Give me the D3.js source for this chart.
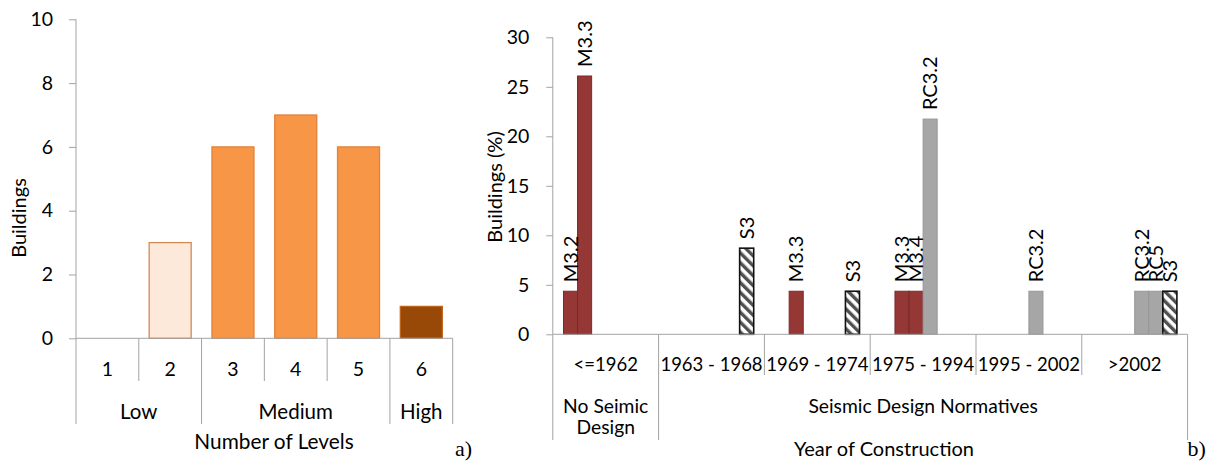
<!DOCTYPE html>
<html>
<head>
<meta charset="utf-8">
<script src="https://cdn.jsdelivr.net/npm/d3@7"></script>
<style>
  html, body { margin: 0; padding: 0; background: #fff; }
  svg { display: block; }
  text { font-family: Lato, "Open Sans", sans-serif; fill: #000; }
</style>
</head>
<body>
<svg id="chart" width="1208" height="461"></svg>
<script>
// ---- a) buildings by number of levels ----
const levels = ["1", "2", "3", "4", "5", "6"];
const levelCounts = [0, 3, 6, 7, 6, 1];
const levelClass = ["Low", "Low", "Medium", "Medium", "Medium", "High"];
const levelClassNames = ["Low", "Medium", "High"];
const levelTicks = [0, 2, 4, 6, 8, 10];

// ---- b) share of buildings by year of construction and typology ----
const periods = ["<=1962", "1963 - 1968", "1969 - 1974", "1975 - 1994", "1995 - 2002", ">2002"];
const periodGroup = ["No Seimic\nDesign", "Seismic Design Normatives", "Seismic Design Normatives",
                     "Seismic Design Normatives", "Seismic Design Normatives", "Seismic Design Normatives"];
const typologies = ["M3.2", "M3.3", "M3.4", "RC3.2", "RC5", "S3"];
const shareM32  = [4.35, 0, 0, 0, 0, 0];
const shareM33  = [26.09, 0, 4.35, 4.35, 0, 0];
const shareM34  = [0, 0, 0, 4.35, 0, 0];
const shareRC32 = [0, 0, 0, 21.74, 4.35, 4.35];
const shareRC5  = [0, 0, 0, 0, 0, 4.35];
const shareS3   = [0, 8.70, 4.35, 0, 0, 4.35];
const shareTicks = [0, 5, 10, 15, 20, 25, 30];

const svg = d3.select("#chart");
const axisColor = "#a3a3a3";

// ================= panel a =================
const levelFill = { Low: "#fde9d9", Medium: "#f79646", High: "#984807" };
const levelStroke = { Low: "#d48a55", Medium: "#e3823a", High: "#c0641e" };

const xa = d3.scaleBand().domain(levels).range([76, 452.7]).paddingInner(0.315).paddingOuter(0.1575);
const ya = d3.scaleLinear().domain([0, 10]).range([338.3, 19.3]);

const ga = svg.append("g");

// y axis
const yAxisA = ga.append("g").attr("transform", "translate(76,0)")
  .call(d3.axisLeft(ya).tickValues(levelTicks).tickSize(7).tickPadding(16));
yAxisA.select(".domain").remove();
yAxisA.selectAll("line").attr("stroke", axisColor);
yAxisA.selectAll("text").style("font-size", "19.5px").attr("font-family", null);

// bars
ga.selectAll("rect.bar").data(levels).join("rect")
  .attr("class", "bar")
  .attr("x", d => xa(d) + 0.5)
  .attr("width", xa.bandwidth() - 1)
  .attr("y", (d, i) => ya(levelCounts[i]))
  .attr("height", (d, i) => ya(0) - ya(levelCounts[i]))
  .attr("fill", (d, i) => levelFill[levelClass[i]])
  .attr("stroke", (d, i) => levelStroke[levelClass[i]])
  .attr("stroke-width", 1.3)
  .style("display", (d, i) => levelCounts[i] > 0 ? null : "none");

// axis lines
const stepA = xa.step();
const xA0 = xa.range()[0], xA1 = xa.range()[1];
ga.append("line").attr("x1", xA0).attr("x2", xA1).attr("y1", ya(0)).attr("y2", ya(0)).attr("stroke", axisColor);
ga.append("line").attr("x1", xA0).attr("x2", xA0).attr("y1", ya(10)).attr("y2", ya(0)).attr("stroke", axisColor);

// category separators: short between levels, long between classes
levels.forEach((d, i) => {
  if (i === 0) return;
  const xb = xA0 + stepA * i;
  const isClassEdge = levelClass[i] !== levelClass[i - 1];
  ga.append("line").attr("x1", xb).attr("x2", xb).attr("y1", ya(0)).attr("y2", isClassEdge ? 424 : 381)
    .attr("stroke", axisColor);
});
[xA0, xA1].forEach(xb => ga.append("line").attr("x1", xb).attr("x2", xb)
  .attr("y1", ya(0)).attr("y2", 424).attr("stroke", axisColor));

// level labels
ga.selectAll("text.lvl").data(levels).join("text")
  .attr("class", "lvl")
  .attr("x", d => xa(d) + xa.bandwidth() / 2)
  .attr("y", 369).attr("dy", "0.35em")
  .attr("text-anchor", "middle").style("font-size", "19.5px")
  .text(d => d);

// class labels
levelClassNames.forEach(name => {
  const idx = levels.filter((d, i) => levelClass[i] === name).map(d => levels.indexOf(d));
  const left = xA0 + stepA * d3.min(idx), right = xA0 + stepA * (d3.max(idx) + 1);
  ga.append("text").attr("x", (left + right) / 2).attr("y", 412).attr("dy", "0.35em")
    .attr("text-anchor", "middle").style("font-size", "20.5px").text(name);
});

ga.append("text").attr("x", 274).attr("y", 441.7).attr("dy", "0.35em")
  .attr("text-anchor", "middle").style("font-size", "20.8px").text("Number of Levels");
ga.append("text").attr("transform", "translate(19,218) rotate(-90)").attr("dy", "0.35em")
  .attr("text-anchor", "middle").style("font-size", "20px").text("Buildings");
ga.append("text").attr("x", 455).attr("y", 456)
  .style("font-family", "'Liberation Serif', serif").style("font-size", "22px").text("a)");

// ================= panel b =================
const defs = svg.append("defs");
defs.append("pattern").attr("id", "hatch").attr("patternUnits", "userSpaceOnUse")
  .attr("width", 7).attr("height", 7).attr("patternTransform", "rotate(-45)")
  .call(p => {
    p.append("rect").attr("width", 7).attr("height", 7).attr("fill", "#fff");
    p.append("rect").attr("width", 3.4).attr("height", 7).attr("fill", "#505050");
  });

const typologyFill = { "M3.2": "#953735", "M3.3": "#953735", "M3.4": "#953735",
                       "RC3.2": "#a6a6a6", "RC5": "#a6a6a6", "S3": "url(#hatch)" };
const typologyStroke = { "M3.2": "#7a2a28", "M3.3": "#7a2a28", "M3.4": "#7a2a28",
                         "RC3.2": "#979797", "RC5": "#979797", "S3": "#111" };
const shareByTypology = { "M3.2": shareM32, "M3.3": shareM33, "M3.4": shareM34,
                          "RC3.2": shareRC32, "RC5": shareRC5, "S3": shareS3 };

const x0 = d3.scaleBand().domain(periods).range([552.8, 1187.6]).padding(0);
const x1 = d3.scaleBand().domain(typologies).range([0, x0.bandwidth()]).paddingInner(0).paddingOuter(0.76);
const yb = d3.scaleLinear().domain([0, 30]).range([334.3, 37.3]);

const gb = svg.append("g");

const yAxisB = gb.append("g").attr("transform", "translate(552.8,0)")
  .call(d3.axisLeft(yb).tickValues(shareTicks).tickSize(6.5).tickPadding(17));
yAxisB.select(".domain").remove();
yAxisB.selectAll("line").attr("stroke", axisColor);
yAxisB.selectAll("text").style("font-size", "19.5px").attr("font-family", null);

// bars as flat records
const records = [];
periods.forEach((p, pi) => typologies.forEach(t => {
  records.push({ period: p, typology: t, value: shareByTypology[t][pi] });
}));
const nonZero = records.filter(r => r.value > 0);

gb.selectAll("rect.bar").data(nonZero).join("rect")
  .attr("class", "bar")
  .attr("x", r => x0(r.period) + x1(r.typology))
  .attr("width", x1.bandwidth())
  .attr("y", r => yb(r.value))
  .attr("height", r => yb(0) - yb(r.value))
  .attr("fill", r => typologyFill[r.typology])
  .attr("stroke", r => typologyStroke[r.typology])
  .attr("stroke-width", r => r.typology === "S3" ? 1.6 : 1);

// axis lines
const xB0 = x0.range()[0], xB1 = x0.range()[1];
gb.append("line").attr("x1", xB0).attr("x2", xB1).attr("y1", yb(0)).attr("y2", yb(0)).attr("stroke", axisColor);
gb.append("line").attr("x1", xB0).attr("x2", xB0).attr("y1", yb(30)).attr("y2", yb(0)).attr("stroke", axisColor);

periods.forEach((p, i) => {
  if (i === 0) return;
  const xb = x0(p);
  const isGroupEdge = periodGroup[i] !== periodGroup[i - 1];
  gb.append("line").attr("x1", xb).attr("x2", xb).attr("y1", yb(0)).attr("y2", isGroupEdge ? 440 : 375)
    .attr("stroke", axisColor);
});
[xB0, xB1].forEach(xb => gb.append("line").attr("x1", xb).attr("x2", xb)
  .attr("y1", yb(0)).attr("y2", 440).attr("stroke", axisColor));

// typology labels above bars
gb.selectAll("text.lbl").data(nonZero).join("text")
  .attr("class", "lbl")
  .attr("transform", r => `translate(${x0(r.period) + x1(r.typology) + x1.bandwidth() / 2},${yb(r.value) - 9}) rotate(-90)`)
  .attr("dy", "0.36em")
  .attr("text-anchor", "start")
  .style("font-size", "20px")
  .text(r => r.typology);

// period labels
gb.selectAll("text.per").data(periods).join("text")
  .attr("class", "per")
  .attr("x", p => x0(p) + x0.bandwidth() / 2)
  .attr("y", 365).attr("dy", "0.35em")
  .attr("text-anchor", "middle").style("font-size", "18.5px")
  .text(p => p);

// group labels
const groupNames = Array.from(new Set(periodGroup));
groupNames.forEach(name => {
  const idx = periodGroup.map((g, i) => g === name ? i : -1).filter(i => i >= 0);
  const left = x0(periods[d3.min(idx)]), right = x0(periods[d3.max(idx)]) + x0.bandwidth();
  const lines = name.split("\n");
  lines.forEach((ln, li) => {
    gb.append("text").attr("x", (left + right) / 2).attr("y", 406 + li * 21).attr("dy", "0.35em")
      .attr("text-anchor", "middle").style("font-size", "19.3px").text(ln);
  });
});

gb.append("text").attr("x", 884).attr("y", 449).attr("dy", "0.35em")
  .attr("text-anchor", "middle").style("font-size", "20px").text("Year of Construction");
gb.append("text").attr("transform", "translate(495,187) rotate(-90)").attr("dy", "0.35em")
  .attr("text-anchor", "middle").style("font-size", "20px").text("Buildings (%)");
gb.append("text").attr("x", 1187.5).attr("y", 456)
  .style("font-family", "'Liberation Serif', serif").style("font-size", "22px").text("b)");
</script>
</body>
</html>
